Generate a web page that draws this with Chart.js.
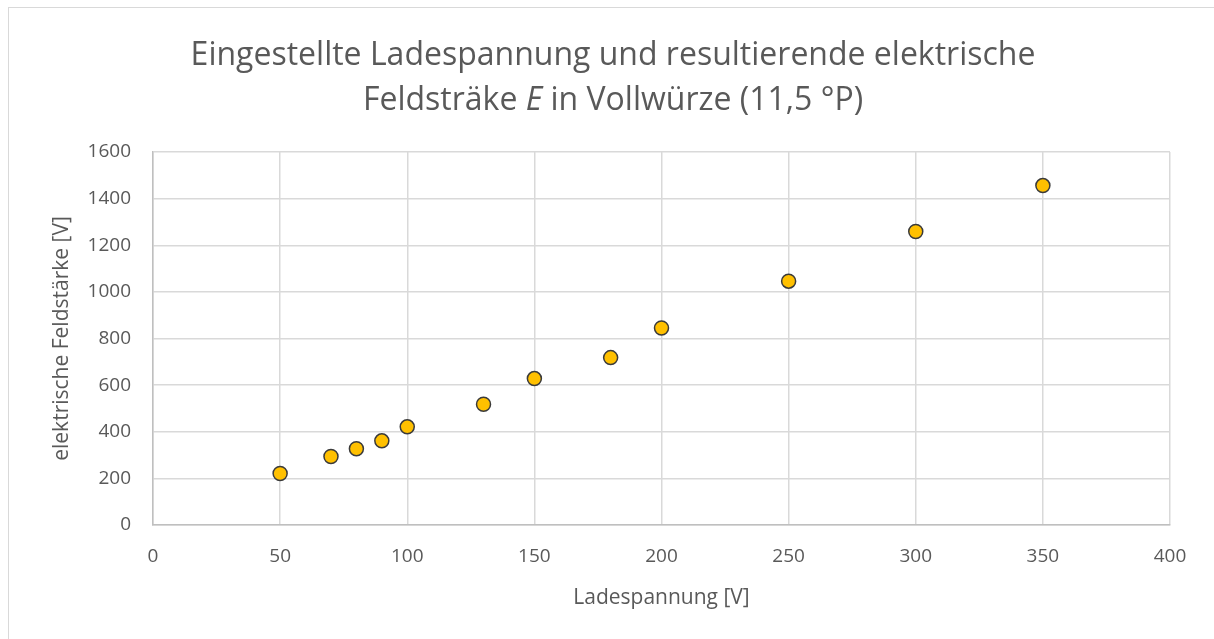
<!DOCTYPE html>
<html>
<head>
<meta charset="utf-8">
<script src="https://cdn.jsdelivr.net/npm/chart.js@4"></script>
<style>
  body { margin: 0; background: #fff; }
  canvas { display: block; }
</style>
</head>
<body>
<canvas id="chart" width="1214" height="639"></canvas>
<script>
'use strict'

// data
const spannung = [50, 70, 80, 90, 100, 130, 150, 180, 200, 250, 300, 350];
const feldstaerke = [221, 294, 327, 361, 421, 518, 628, 718, 845, 1046, 1259, 1456];
const xTicks = [0, 50, 100, 150, 200, 250, 300, 350, 400];
const yTicks = [0, 200, 400, 600, 800, 1000, 1200, 1400, 1600];
const titleLine1 = [{text: 'Eingestellte Ladespannung und resultierende elektrische', italic: false}];
const titleLine2 = [
    {text: 'Feldsträke ', italic: false},
    {text: 'E', italic: true},
    {text: ' in Vollwürze (11,5 °P)', italic: false}
];

const FONT = '"Open Sans", "Noto Sans", sans-serif';
const TEXT = '#595959';

const frame = {
    id: 'frame',
    beforeDraw(chart) {
        const c = chart.ctx;
        c.save();
        c.fillStyle = '#fff';
        c.fillRect(0, 0, chart.width, chart.height);
        c.strokeStyle = '#d9d9d9';
        c.lineWidth = 1;
        c.strokeRect(8.5, 7.5, chart.width + 20, chart.height + 20);
        c.restore();
    }
};

const richTitle = {
    id: 'richTitle',
    afterDraw(chart) {
        const c = chart.ctx;
        const cx = 613;
        const size = 32;
        c.save();
        c.fillStyle = TEXT;
        c.textBaseline = 'middle';
        c.textAlign = 'left';
        [[titleLine1, 56], [titleLine2, 101]].forEach(([parts, y]) => {
            let w = 0;
            parts.forEach(p => {
                c.font = (p.italic ? 'italic ' : '') + size + 'px ' + FONT;
                w += c.measureText(p.text).width;
            });
            let x = cx - w / 2;
            parts.forEach(p => {
                c.font = (p.italic ? 'italic ' : '') + size + 'px ' + FONT;
                c.fillText(p.text, x, y);
                x += c.measureText(p.text).width;
            });
        });
        c.restore();
    }
};

const ctx = document.getElementById('chart').getContext('2d');
const chart = new Chart(ctx, {
    type: 'scatter',
    data: {
        datasets: [{
            label: 'Feldstärke',
            data: spannung.map((v, i) => ({x: v, y: feldstaerke[i]})),
            backgroundColor: '#ffc000',
            borderColor: '#3a3a3a',
            borderWidth: 1.5,
            pointRadius: 7,
            pointHoverRadius: 7
        }]
    },
    options: {
        responsive: false,
        animation: false,
        events: [],
        layout: {padding: {left: 0, right: 44, top: 152, bottom: 0}},
        plugins: {
            legend: {display: false},
            title: {display: false},
            tooltip: {enabled: false}
        },
        scales: {
            x: {
                type: 'linear',
                min: 0,
                max: 400,
                afterBuildTicks: s => { s.ticks = xTicks.map(v => ({value: v})); },
                afterFit: s => { s.height = 114; },
                grid: {color: '#d9d9d9', lineWidth: 1.5, drawTicks: false},
                border: {color: '#bfbfbf', width: 1.5},
                ticks: {color: TEXT, font: {family: FONT, size: 19}, padding: 20, maxRotation: 0,
                    callback: v => String(v)},
                title: {
                    display: true,
                    text: 'Ladespannung [V]',
                    color: TEXT,
                    font: {family: FONT, size: 21},
                    padding: {top: 28, bottom: 28}
                }
            },
            y: {
                type: 'linear',
                min: 0,
                max: 1600,
                afterBuildTicks: s => { s.ticks = yTicks.map(v => ({value: v})); },
                afterFit: s => { s.width = 153; },
                grid: {color: '#d9d9d9', lineWidth: 1.5, drawTicks: false},
                border: {color: '#bfbfbf', width: 1.5},
                ticks: {color: TEXT, font: {family: FONT, size: 19}, padding: 22,
                    callback: v => String(v)},
                title: {
                    display: true,
                    text: 'elektrische Feldstärke [V]',
                    color: TEXT,
                    font: {family: FONT, size: 21},
                    padding: {top: 49, bottom: 49}
                }
            }
        }
    },
    plugins: [frame, richTitle]
});
</script>
</body>
</html>
